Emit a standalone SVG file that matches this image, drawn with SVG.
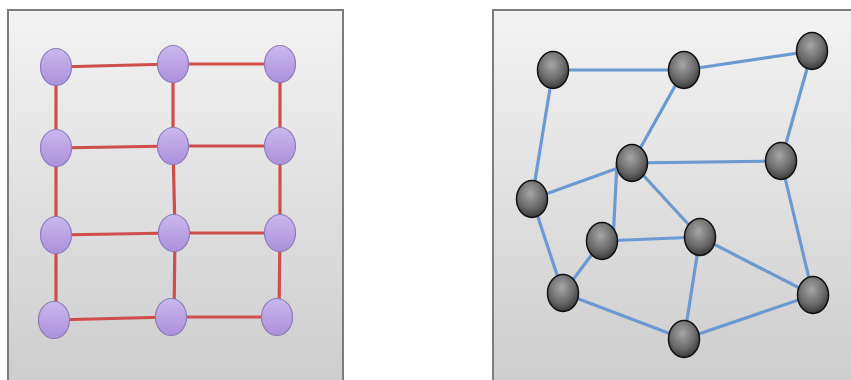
<svg xmlns="http://www.w3.org/2000/svg" width="851" height="380" viewBox="0 0 851 380">
<defs>
<linearGradient id="bg" x1="0" y1="0" x2="0" y2="1">
<stop offset="0" stop-color="#f3f3f3"/>
<stop offset="1" stop-color="#cdcdcd"/>
</linearGradient>
<linearGradient id="purple" x1="0" y1="0" x2="0" y2="1">
<stop offset="0" stop-color="#cbb8ee"/>
<stop offset="1" stop-color="#ab90da"/>
</linearGradient>
<radialGradient id="dark" cx="0.45" cy="0.35" r="0.75">
<stop offset="0" stop-color="#a6a6a6"/>
<stop offset="0.55" stop-color="#6a6a6a"/>
<stop offset="1" stop-color="#262626"/>
</radialGradient>
</defs>
<style>
.panel{fill:url(#bg);stroke:#7d7d7d;stroke-width:2}
.red line{stroke:#cf4d4b;stroke-width:3.2;stroke-linecap:round}
.blue line{stroke:#6b9ad2;stroke-width:3.2;stroke-linecap:round}
.pn{fill:url(#purple);stroke:#8c7cbc;stroke-width:1.2}
.dn{fill:url(#dark);stroke:#111;stroke-width:1.5}
</style>
<rect width="851" height="380" fill="#ffffff"/>
<rect id="panel-left" class="panel" x="8" y="10" width="335" height="375"/>
<rect id="panel-right" class="panel" x="493" y="10" width="365" height="375"/>
<g id="connectors-left" class="red">
<line x1="56" y1="67" x2="173" y2="64"/>
<line x1="173" y1="64" x2="280" y2="64"/>
<line x1="56" y1="148" x2="173" y2="146"/>
<line x1="173" y1="146" x2="280" y2="146"/>
<line x1="56" y1="235" x2="173" y2="233"/>
<line x1="173" y1="233" x2="280" y2="233"/>
<line x1="53" y1="320" x2="171" y2="317"/>
<line x1="171" y1="317" x2="277" y2="317"/>
<line x1="56" y1="67" x2="56" y2="148"/>
<line x1="56" y1="148" x2="56" y2="235"/>
<line x1="56" y1="235" x2="56" y2="320"/>
<line x1="173" y1="64" x2="173" y2="146"/>
<line x1="173" y1="146" x2="175" y2="233"/>
<line x1="175" y1="233" x2="174" y2="317"/>
<line x1="280" y1="64" x2="280" y2="146"/>
<line x1="280" y1="146" x2="280" y2="233"/>
<line x1="280" y1="233" x2="279" y2="317"/>
</g>
<g id="connectors-right" class="blue">
<line x1="553" y1="70" x2="684" y2="70"/>
<line x1="684" y1="70" x2="812" y2="51"/>
<line x1="553" y1="70" x2="532" y2="199"/>
<line x1="684" y1="70" x2="632" y2="163"/>
<line x1="812" y1="51" x2="781" y2="161"/>
<line x1="632" y1="163" x2="781" y2="161"/>
<line x1="632" y1="163" x2="532" y2="199"/>
<line x1="617" y1="163" x2="613" y2="241"/>
<line x1="632" y1="163" x2="700" y2="237"/>
<line x1="602" y1="241" x2="700" y2="237"/>
<line x1="602" y1="241" x2="563" y2="293"/>
<line x1="532" y1="199" x2="563" y2="293"/>
<line x1="781" y1="161" x2="813" y2="295"/>
<line x1="700" y1="237" x2="813" y2="295"/>
<line x1="700" y1="237" x2="684" y2="339"/>
<line x1="563" y1="293" x2="684" y2="339"/>
<line x1="684" y1="339" x2="813" y2="295"/>
</g>
<g id="n-l11"><ellipse class="pn" cx="56" cy="67" rx="15.5" ry="18.5"/></g>
<g id="n-l12"><ellipse class="pn" cx="173" cy="64" rx="15.5" ry="18.5"/></g>
<g id="n-l13"><ellipse class="pn" cx="280" cy="64" rx="15.5" ry="18.5"/></g>
<g id="n-l21"><ellipse class="pn" cx="56" cy="148" rx="15.5" ry="18.5"/></g>
<g id="n-l22"><ellipse class="pn" cx="173" cy="146" rx="15.5" ry="18.5"/></g>
<g id="n-l23"><ellipse class="pn" cx="280" cy="146" rx="15.5" ry="18.5"/></g>
<g id="n-l31"><ellipse class="pn" cx="56" cy="235" rx="15.5" ry="18.5"/></g>
<g id="n-l32"><ellipse class="pn" cx="174" cy="233" rx="15.5" ry="18.5"/></g>
<g id="n-l33"><ellipse class="pn" cx="280" cy="233" rx="15.5" ry="18.5"/></g>
<g id="n-l41"><ellipse class="pn" cx="54" cy="320" rx="15.5" ry="18.5"/></g>
<g id="n-l42"><ellipse class="pn" cx="171" cy="317" rx="15.5" ry="18.5"/></g>
<g id="n-l43"><ellipse class="pn" cx="277" cy="317" rx="15.5" ry="18.5"/></g>
<g id="n-a"><ellipse class="dn" cx="553" cy="70" rx="15.5" ry="18.5"/></g>
<g id="n-b"><ellipse class="dn" cx="684" cy="70" rx="15.5" ry="18.5"/></g>
<g id="n-c"><ellipse class="dn" cx="812" cy="51" rx="15.5" ry="18.5"/></g>
<g id="n-d"><ellipse class="dn" cx="632" cy="163" rx="15.5" ry="18.5"/></g>
<g id="n-e"><ellipse class="dn" cx="781" cy="161" rx="15.5" ry="18.5"/></g>
<g id="n-f"><ellipse class="dn" cx="532" cy="199" rx="15.5" ry="18.5"/></g>
<g id="n-g"><ellipse class="dn" cx="602" cy="241" rx="15.5" ry="18.5"/></g>
<g id="n-h"><ellipse class="dn" cx="700" cy="237" rx="15.5" ry="18.5"/></g>
<g id="n-i"><ellipse class="dn" cx="563" cy="293" rx="15.5" ry="18.5"/></g>
<g id="n-j"><ellipse class="dn" cx="813" cy="295" rx="15.5" ry="18.5"/></g>
<g id="n-k"><ellipse class="dn" cx="684" cy="339" rx="15.5" ry="18.5"/></g>
</svg>
